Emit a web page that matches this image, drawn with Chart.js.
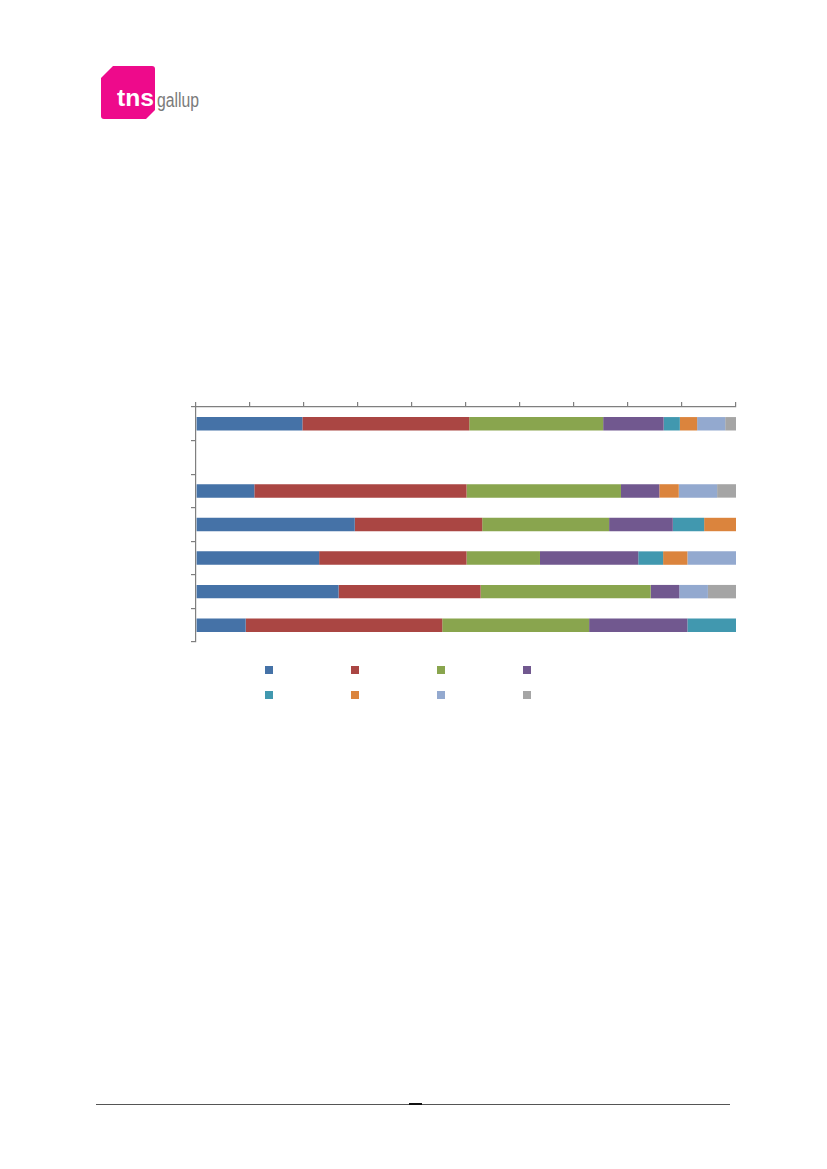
<!DOCTYPE html>
<html>
<head>
<meta charset="utf-8">
<title>Chart</title>
<script src="https://cdn.jsdelivr.net/npm/chart.js@4.4.0/dist/chart.umd.min.js"></script>
<style>
  html, body { margin: 0; padding: 0; background: #fff; overflow: hidden; }
  #page { position: relative; width: 827px; height: 1169px; }
  #logo { position: absolute; left: 96px; top: 60px; }
  #chartWrap { position: absolute; left: 0; top: 0; width: 827px; height: 1169px; }
  #footer { position: absolute; left: 96px; top: 1104px; width: 634px; height: 1px; background: #555; }
  #footerMark { position: absolute; left: 409px; top: 1103px; width: 13px; height: 2px; background: #111; }
</style>
</head>
<body>
<div id="page">
  <svg id="logo" width="120" height="64" viewBox="0 0 120 64">
    <path d="M17 6 L56 6 Q59 6 59 9 L59 50 L50 59 L8 59 Q5 59 5 56 L5 18 Z" fill="#ee0a8b"/>
    <text x="21" y="46" font-family="Liberation Sans, Arial, sans-serif" font-weight="bold" font-size="24" fill="#fff" textLength="37" lengthAdjust="spacingAndGlyphs">tns</text>
    <text x="61" y="46.5" font-family="Liberation Sans, Arial, sans-serif" font-size="20" fill="#7a7a7a" textLength="42" lengthAdjust="spacingAndGlyphs">gallup</text>
  </svg>
  <div id="chartWrap"><canvas id="myChart"></canvas></div>
  <div id="footer"></div>
  <div id="footerMark"></div>
</div>
<script>
  const categories = ["1", "2", "3", "4", "5", "6", "7"];
  const seriesNames = ["1", "2", "3", "4", "5", "6", "7", "8"];
  const xTicks = [0, 10, 20, 30, 40, 50, 60, 70, 80, 90, 100];

  const s1 = [19.7, 0, 10.8, 29.4, 22.8, 26.4, 9.2];
  const s2 = [30.9, 0, 39.3, 23.6, 27.3, 26.3, 36.4];
  const s3 = [24.8, 0, 28.6, 23.5, 13.6, 31.5, 27.2];
  const s4 = [11.2, 0, 7.1, 11.8, 18.2, 5.3, 18.2];
  const s5 = [3.0, 0, 0, 5.8, 4.6, 0, 9.0];
  const s6 = [3.2, 0, 3.6, 5.9, 4.5, 0, 0];
  const s7 = [5.2, 0, 7.1, 0, 9.0, 5.3, 0];
  const s8 = [2.0, 0, 3.5, 0, 0, 5.2, 0];

  const colors = ["#4572a7", "#aa4643", "#89a54e", "#71588f", "#4198af", "#db843d", "#93a9cf", "#a5a5a5"];
  const series = [s1, s2, s3, s4, s5, s6, s7, s8];

  // squares-only legend, 4 per row, like the reference
  const legendSquares = {
    id: "legendSquares",
    afterDraw(chart) {
      const ctx = chart.ctx;
      chart.data.datasets.forEach((ds, i) => {
        const col = i % 4, row = Math.floor(i / 4);
        ctx.fillStyle = ds.backgroundColor;
        ctx.fillRect(265 + col * 86, 666 + row * 25, 8, 8);
      });
    }
  };

  const ctx = document.getElementById("myChart").getContext("2d");
  const myChart = new Chart(ctx, {
    type: "bar",
    data: {
      labels: categories,
      datasets: series.map((d, i) => ({
        label: seriesNames[i],
        data: d,
        backgroundColor: colors[i],
        borderWidth: 0,
        barPercentage: 0.4,
        categoryPercentage: 1
      }))
    },
    options: {
      indexAxis: "y",
      responsive: true,
      maintainAspectRatio: false,
      animation: false,
      layout: { padding: { left: 191, top: 402, right: 91, bottom: 527 } },
      plugins: { legend: { display: false }, tooltip: { enabled: false } },
      scales: {
        x: {
          stacked: true,
          position: "top",
          min: 0,
          max: 100,
          afterBuildTicks: (axis) => { axis.ticks = xTicks.map(v => ({ value: v })); },
          ticks: { display: false },
          grid: { drawOnChartArea: false, tickLength: 5, color: "#7f7f7f", lineWidth: 1.2 },
          border: { color: "#7f7f7f", width: 1.2 }
        },
        y: {
          stacked: true,
          ticks: { display: false },
          grid: { drawOnChartArea: false, tickLength: 5, offset: true, color: "#7f7f7f", lineWidth: 1.2 },
          border: { color: "#7f7f7f", width: 1.2 }
        }
      }
    },
    plugins: [legendSquares]
  });
</script>
</body>
</html>
